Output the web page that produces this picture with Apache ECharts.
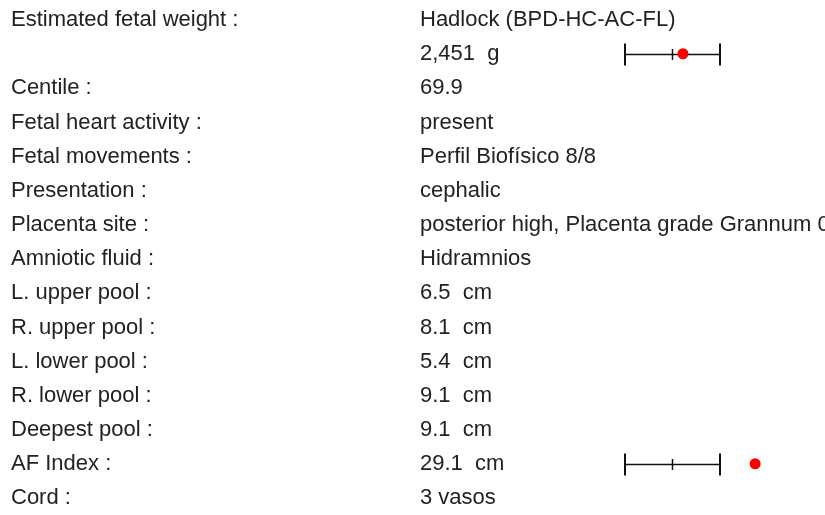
<!DOCTYPE html>
<html><head><meta charset="utf-8">
<script src="https://cdn.jsdelivr.net/npm/echarts@6/dist/echarts.min.js"></script>
<style>html,body{margin:0;padding:0;background:#fff}#c{width:825px;height:515px}</style>
</head><body><div id="c"></div>
<script>
const rowLabels = ["Estimated fetal weight :", "", "Centile :", "Fetal heart activity :", "Fetal movements :", "Presentation :", "Placenta site :", "Amniotic fluid :", "L. upper pool :", "R. upper pool :", "L. lower pool :", "R. lower pool :", "Deepest pool :", "AF Index :", "Cord :"];
const rowValues = ["Hadlock (BPD-HC-AC-FL)", "2,451  g", "69.9", "present", "Perfil Biofísico 8/8", "cephalic", "posterior high, Placenta grade Grannum 0", "Hidramnios", "6.5  cm", "8.1  cm", "5.4  cm", "9.1  cm", "9.1  cm", "29.1  cm", "3 vasos"];
const rangeRows = [1, 13];
const rangeLow = [0, 0];
const rangeMid = [50, 50];
const rangeHigh = [100, 100];
const markerValues = [61, 137];

const FONT = "'Liberation Sans', sans-serif";
const rowIdx = rowLabels.map((_, i) => i);
const chart = echarts.init(document.getElementById('c'), null, {renderer: 'canvas'});
chart.setOption({
  animation: false,
  backgroundColor: '#fff',
  grid: {left: 625, width: 95, top: 2.5, height: 513},
  xAxis: {type: 'value', min: 0, max: 100, show: false},
  yAxis: {type: 'category', data: rowIdx, inverse: true, show: false},
  series: [
    {
      type: 'custom', clip: false,
      data: rowIdx.map(i => [0, i, rowLabels[i], rowValues[i]]),
      renderItem: function (params, api) {
        const y = api.coord([0, api.value(1)])[1] + 0.5;
        const idx = params.dataIndex;
        const st = {fontFamily: FONT, fontSize: 22, fill: '#222', verticalAlign: 'middle', textAlign: 'left'};
        return {type: 'group', children: [
          {type: 'text', x: 11, y: y, style: Object.assign({text: rowLabels[idx]}, st)},
          {type: 'text', x: 420, y: y, style: Object.assign({text: rowValues[idx]}, st)}
        ]};
      }
    },
    {
      type: 'custom', clip: false,
      data: rangeRows.map((r, i) => [rangeLow[i], r, rangeMid[i], rangeHigh[i]]),
      renderItem: function (params, api) {
        const p0 = api.coord([api.value(0), api.value(1)]);
        const pm = api.coord([api.value(2), api.value(1)]);
        const p1 = api.coord([api.value(3), api.value(1)]);
        const y = Math.round(p0[1]) + 0.5;
        const s = {stroke: '#111', lineWidth: 1.5};
        return {type: 'group', children: [
          {type: 'line', shape: {x1: p0[0], y1: y, x2: p1[0], y2: y}, style: s},
          {type: 'line', shape: {x1: p0[0], y1: y - 11, x2: p0[0], y2: y + 11}, style: {stroke: '#111', lineWidth: 2}},
          {type: 'line', shape: {x1: p1[0], y1: y - 11, x2: p1[0], y2: y + 11}, style: {stroke: '#111', lineWidth: 2}},
          {type: 'line', shape: {x1: pm[0], y1: y - 5.5, x2: pm[0], y2: y + 5.5}, style: {stroke: '#111', lineWidth: 1.5}}
        ]};
      }
    },
    {
      type: 'scatter', clip: false,
      symbolSize: 11,
      itemStyle: {color: '#ff0000', opacity: 1},
      data: rangeRows.map((r, i) => [markerValues[i], r])
    }
  ]
});
</script></body></html>
